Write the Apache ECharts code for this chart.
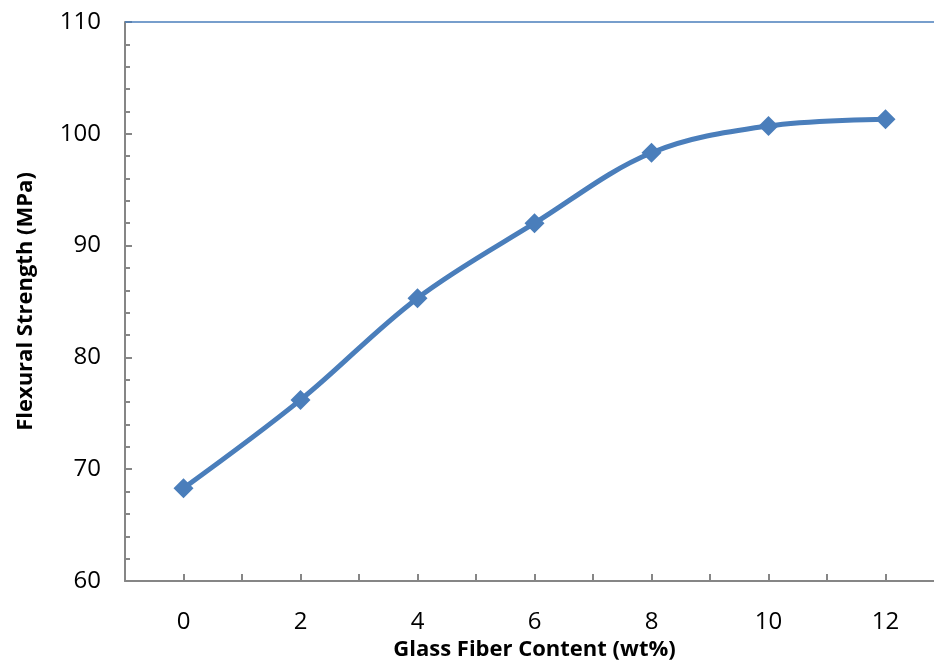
<!DOCTYPE html>
<html>
<head>
<meta charset="utf-8">
<style>
  html, body { margin: 0; padding: 0; background: #fff; }
  #main { width: 934px; height: 663px; }
</style>
<script src="https://cdn.jsdelivr.net/npm/echarts@6/dist/echarts.min.js"></script>
</head>
<body>
<div id="main"></div>
<script>
// glass fibre content (wt%) and flexural strength (MPa)
const fiberContent = [0, 2, 4, 6, 8, 10, 12]
const flexStrength = [68.3, 76.2, 85.3, 92.0, 98.3, 100.7, 101.3]
const xTickLabels = [0, 2, 4, 6, 8, 10, 12]

const chart = echarts.init(document.getElementById('main'))
const lineColor = '#4a7ebb'
const axisGray = '#868686'
const font = '"Open Sans", "Noto Sans", sans-serif'

chart.setOption({
    animation: false,
    // plot runs past the right edge, the source image is cropped there
    grid: { left: 125, top: 22, width: 819, bottom: 82, containLabel: false, outerBoundsMode: 'none' },
    xAxis: {
        type: 'value',
        min: -1,
        max: 13,
        interval: 1,
        name: 'Glass Fiber Content (wt%)',
        nameLocation: 'middle',
        nameGap: 58,
        nameTextStyle: { fontFamily: font, fontWeight: 'bold', fontSize: 22, color: '#000' },
        axisLine: { onZero: false, lineStyle: { color: axisGray, width: 2 } },
        axisTick: { inside: true, length: 7, lineStyle: { color: axisGray, width: 2 } },
        axisLabel: {
            fontFamily: font, fontSize: 24, color: '#000', margin: 29,
            formatter: v => xTickLabels.includes(v) ? String(v) : ''
        },
        splitLine: { show: false }
    },
    yAxis: {
        type: 'value',
        min: 60,
        max: 110,
        interval: 10,
        name: 'Flexural Strength (MPa)',
        nameLocation: 'middle',
        nameGap: 88,
        nameTextStyle: { fontFamily: font, fontWeight: 'bold', fontSize: 22, color: '#000' },
        axisLine: { show: true, onZero: false, lineStyle: { color: axisGray, width: 2 } },
        axisTick: { inside: true, length: 7, lineStyle: { color: axisGray, width: 2 } },
        minorTick: { show: true, splitNumber: 5, length: 5, lineStyle: { color: axisGray, width: 2 } },
        axisLabel: { fontFamily: font, fontSize: 24, color: '#000', margin: 24 },
        splitLine: { show: false }
    },
    series: [{
        type: 'line',
        data: fiberContent.map((x, i) => [x, flexStrength[i]]),
        smooth: 0.35,
        symbol: 'diamond',
        symbolSize: 20,
        itemStyle: { color: lineColor },
        lineStyle: { color: lineColor, width: 5 },
        markLine: {
            silent: true,
            symbol: 'none',
            label: { show: false },
            lineStyle: { color: lineColor, width: 1.5, type: 'solid' },
            data: [{ yAxis: 110 }]
        }
    }]
})
</script>
</body>
</html>
